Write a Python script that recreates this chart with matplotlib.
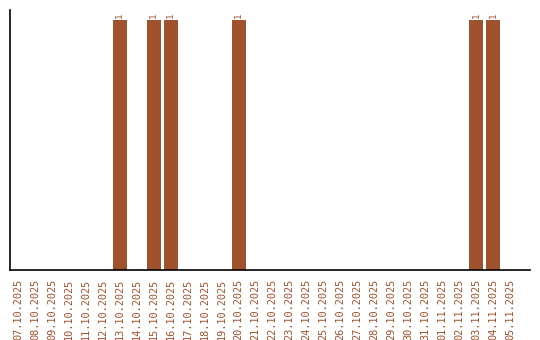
import matplotlib
matplotlib.use('Agg')
import matplotlib.pyplot as plt
import pandas as pd

dates = pd.date_range('2025-10-07', '2025-11-05', freq='D')
labels = [d.strftime('%d.%m.%Y') for d in dates]
hit_days = ['13.10.2025', '15.10.2025', '16.10.2025', '20.10.2025',
            '03.11.2025', '04.11.2025']
hit_counts = [1, 1, 1, 1, 1, 1]

counts = dict(zip(hit_days, hit_counts))
values = [counts.get(l, 0) for l in labels]

color = '#A0522D'

fig = plt.figure(figsize=(5.4, 3.4), dpi=100)
ax = fig.add_axes([10 / 540, 70 / 340, 520 / 540, 260 / 340])

x = range(len(labels))
bars = ax.bar(x, values, width=0.82, color=color)
for i, v in zip(x, values):
    if v > 0:
        ax.text(i, v + 0.01, str(v), rotation=90, ha='center', va='bottom',
                fontsize=6.5, color=color, family='DejaVu Sans Mono')

ax.set_xlim(-0.47, 30.17)
ax.set_ylim(0, 1.04)
ax.set_xticks(list(x))
ax.set_xticklabels(labels, rotation=90, fontsize=7.4, color=color,
                   family='DejaVu Sans Mono')
ax.set_yticks([])
ax.tick_params(axis='x', length=0, pad=6)

ax.spines['top'].set_visible(False)
ax.spines['right'].set_visible(False)
ax.spines['left'].set_linewidth(1.2)
ax.spines['bottom'].set_linewidth(1.2)

fig.savefig('out.png', dpi=100)
